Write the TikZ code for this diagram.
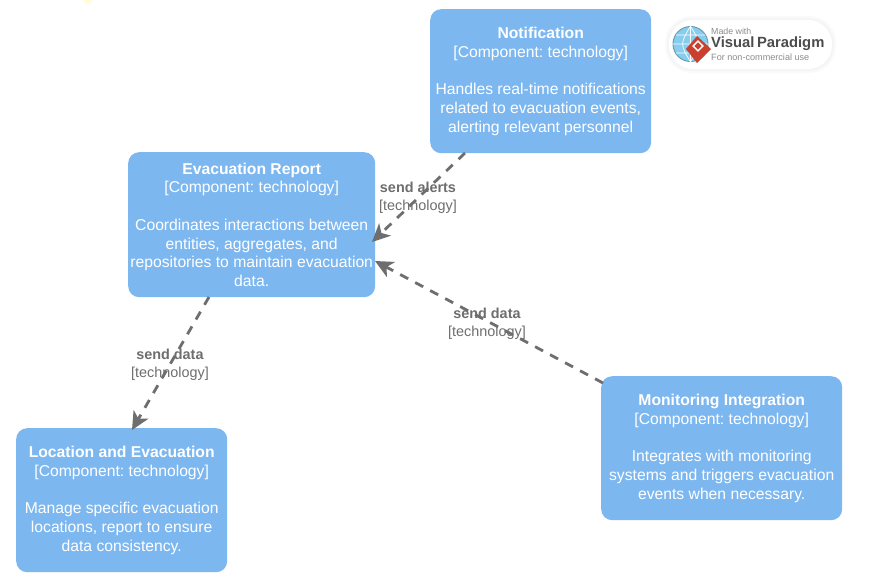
\documentclass[tikz,border=0pt]{standalone}
\usepackage{fontspec}
\setmainfont{Liberation Sans}
\usetikzlibrary{arrows.meta}
\frenchspacing
\definecolor{boxblue}{HTML}{7DB7F0}
\definecolor{linkgray}{HTML}{6E6E6E}
\definecolor{globeblue}{HTML}{86CDEE}
\definecolor{globerim}{HTML}{6F9DB0}
\definecolor{logored}{HTML}{C9402E}
\tikzset{
  x=1pt,y=-1pt,
  compbox/.style={draw=none,fill=boxblue,rounded corners=11pt,text=white,align=center,
    anchor=north west,inner sep=0pt,font=\fontsize{15.7}{18.7}\selectfont},
  linkline/.style={draw=linkgray,line width=2.8pt,dash pattern=on 9pt off 8pt,
    -{Stealth[length=18pt,width=17pt,inset=5pt]}},
  linklabel/.style={text=linkgray,align=center,inner sep=0pt,font=\fontsize{14.4}{18}\selectfont},
}
\begin{document}
\begin{tikzpicture}
\useasboundingbox[fill=white] (0,0) rectangle (875,581);
\fill[yellow!18] (88,0) circle[radius=4];
\node[compbox,minimum width=221pt,minimum height=144pt] (notif) at (430,9)
  {\textbf{Notification}\\{}[Component: technology]\\[18.7pt]Handles real-time notifications\\related to evacuation events,\\alerting relevant personnel};
\node[compbox,minimum width=247pt,minimum height=145pt] (report) at (128,152)
  {\textbf{Evacuation Report}\\{}[Component: technology]\\[18.7pt]Coordinates interactions between\\entities, aggregates, and\\repositories to maintain evacuation\\data.};
\node[compbox,minimum width=211pt,minimum height=144pt] (loc) at (16,428)
  {\textbf{Location and Evacuation}\\{}[Component: technology]\\[18.7pt]Manage specific evacuation\\locations, report to ensure\\data consistency.};
\node[compbox,minimum width=241pt,minimum height=144pt] (mon) at (601,376)
  {\textbf{Monitoring Integration}\\{}[Component: technology]\\[18.7pt]Integrates with monitoring\\systems and triggers evacuation\\events when necessary.};
\coordinate (a1) at (465,153);
\coordinate (a2) at (372,242);
\coordinate (b1) at (603,383);
\coordinate (b2) at (375,261);
\coordinate (c1) at (209,297);
\coordinate (c2) at (132,430);
\draw[linkline] (a1) -- (a2);
\draw[linkline] (b1) -- (b2);
\draw[linkline] (c1) -- (c2);
\node[linklabel] (la) at (418,197.5) {\textbf{send alerts}\\{}[technology]};
\node[linklabel] (lb) at (487,323.5) {\textbf{send data}\\{}[technology]};
\node[linklabel] (lc) at (170,364.5) {\textbf{send data}\\{}[technology]};
% logo
\fill[black!2,rounded corners=27pt] (665,16) rectangle (836,73);
\fill[black!4,rounded corners=25pt] (667,18) rectangle (834,71);
\node[fill=white,rounded corners=24pt,minimum width=163pt,minimum height=49pt,inner sep=0pt] (pill) at (750.5,44.5) {};
\node[circle,fill=globeblue,draw=globerim,line width=1pt,minimum size=35pt,inner sep=0pt] (globe) at (690.5,44) {};
\draw[white,line width=.7pt] (globe.west) -- (globe.east) (globe.north) -- (globe.south)
  (globe.north) .. controls (680,44) .. (globe.south) (globe.north) .. controls (701,44) .. (globe.south)
  (676,35) -- (705,35) (676,53) -- (705,53);
\fill[logored] (697,36) -- (711,49) -- (697,63) -- (686,49) -- cycle;
\node[draw=white,line width=1.4pt,minimum size=7pt,inner sep=0pt,rotate=45] (mark) at (698,46) {};
\node[anchor=west,text=black!45,inner sep=0pt,font=\fontsize{8.8}{9}\selectfont] (made) at (711,31) {Made with};
\node[anchor=west,text=black!70,inner sep=0pt,font=\fontsize{14.8}{15}\selectfont\bfseries] (vp) at (711,44) {Visual\,Paradigm};
\node[anchor=west,text=black!45,inner sep=0pt,font=\fontsize{9.1}{9}\selectfont] (nc) at (711,57) {For non-commercial use};
\end{tikzpicture}
\end{document}
